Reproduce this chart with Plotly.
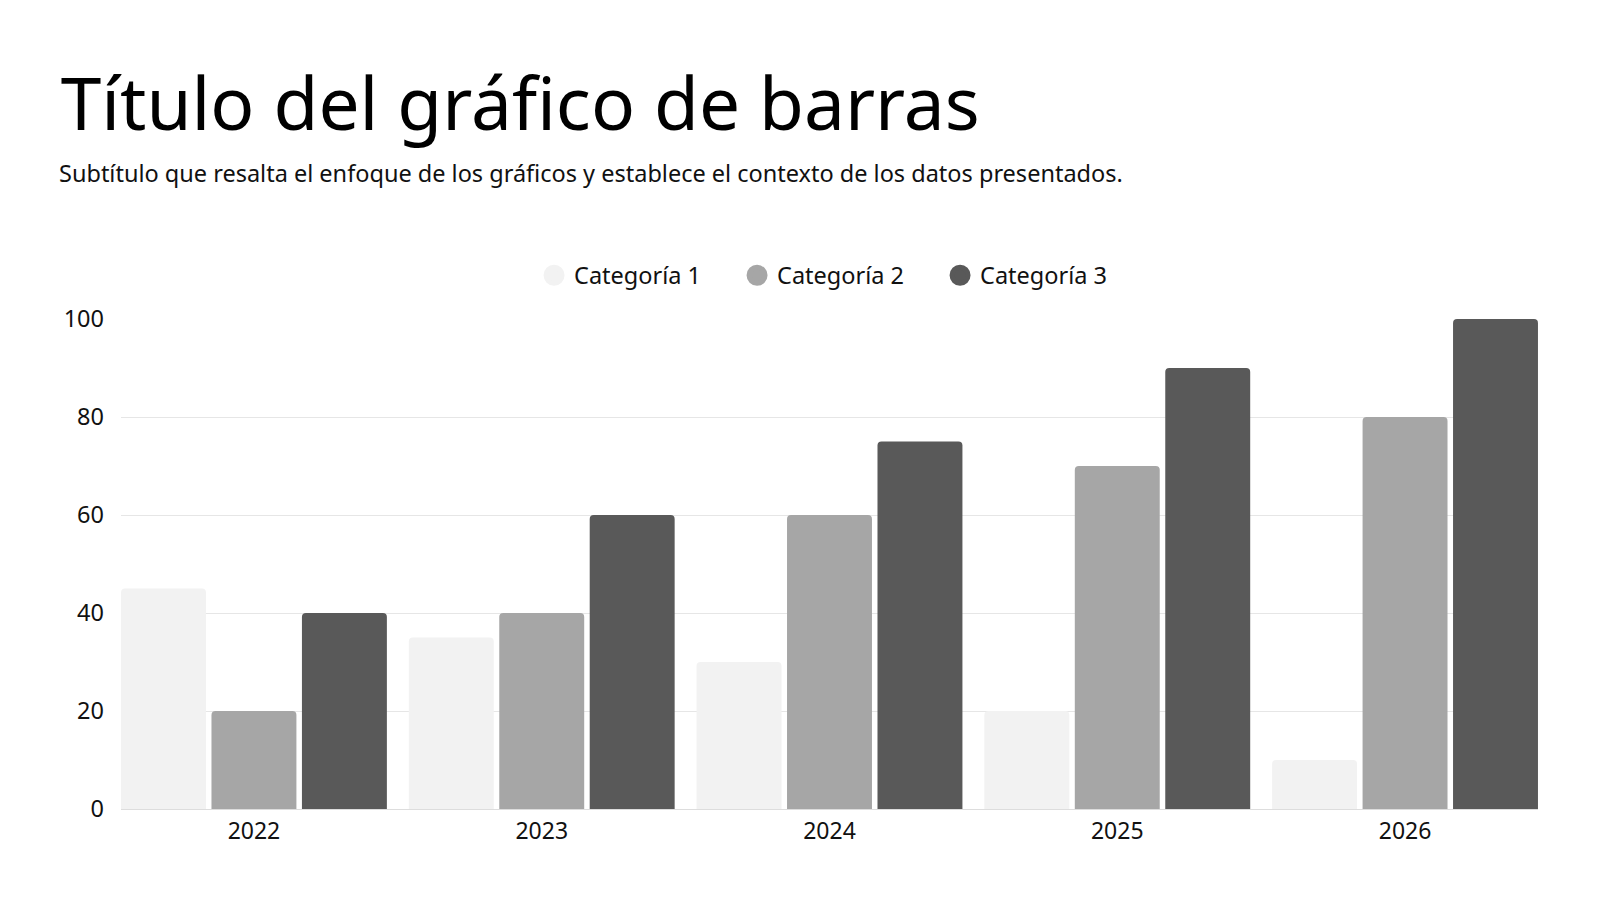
import plotly.graph_objects as go

# datos
years = ["2022", "2023", "2024", "2025", "2026"]
cat1 = [45, 35, 30, 20, 10]
cat2 = [20, 40, 60, 70, 80]
cat3 = [40, 60, 75, 90, 100]
series_names = ["Categoría 1", "Categoría 2", "Categoría 3"]
colors = ["#f2f2f2", "#a6a6a6", "#595959"]

fig = go.Figure()

for name, vals, col in zip(series_names, [cat1, cat2, cat3], colors):
    fig.add_trace(go.Bar(x=years, y=vals, name=name, marker=dict(color=col, line=dict(width=0)),
                         showlegend=False))
    # entrada de leyenda con circulo (las barras solo dan cuadrados)
    fig.add_trace(go.Scatter(x=[None], y=[None], mode="markers", name=name,
                             marker=dict(symbol="circle", size=16, color=col,
                                         line=dict(width=5, color=col))))

fig.update_layout(
    width=1600, height=900,
    paper_bgcolor="white", plot_bgcolor="white",
    margin=dict(l=113, r=70, t=311, b=99),
    font=dict(family="Noto Sans", color="#111111"),
    barmode="group", bargap=0.057, bargroupgap=0.061, barcornerradius=4,
    title=dict(text="Título del gráfico de barras", font=dict(size=73, color="#000000"),
               xref="container", yref="container", x=0.0329, xanchor="left",
               y=1 - 96 / 900, yanchor="middle"),
    showlegend=True,
    legend=dict(orientation="h", x=0.2915, xanchor="left", y=1.0888, yanchor="middle",
                font=dict(size=23.5, color="#111111"), entrywidth=158, entrywidthmode="pixels",
                itemsizing="trace"),
    annotations=[dict(text="Subtítulo que resalta el enfoque de los gráficos y establece el contexto de los datos presentados.",
                      xref="paper", yref="paper", x=-0.0452, xanchor="left",
                      y=1.298, yanchor="middle", showarrow=False,
                      font=dict(size=23.5, color="#111111"))],
)

fig.update_xaxes(type="category", range=[-0.462, 4.462], showgrid=False, showline=False,
                 tickfont=dict(size=23, color="#111111"), ticks="", ticklabelstandoff=6)
fig.update_yaxes(range=[0, 100], dtick=20, showgrid=True, gridcolor="#e6e6e6", gridwidth=1,
                 zeroline=True, zerolinecolor="#dddddd", zerolinewidth=1,
                 tickfont=dict(size=23.5, color="#111111"), ticks="", ticklabelstandoff=16)

fig.write_html("out.html")
